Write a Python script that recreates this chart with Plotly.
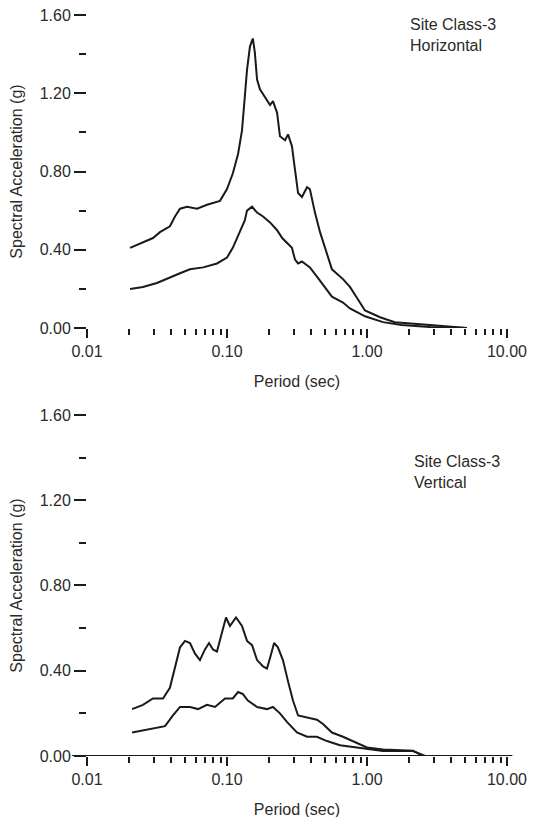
import plotly.graph_objects as go
from plotly.subplots import make_subplots

# Site Class-3, horizontal component (period in sec, Sa in g)
h_period_upper = [0.0203, 0.0251, 0.0296, 0.0332, 0.0391, 0.0425, 0.0462, 0.0518, 0.0611,
                  0.0720, 0.0891, 0.100, 0.110, 0.120, 0.128, 0.134, 0.139, 0.146, 0.153,
                  0.158, 0.164, 0.172, 0.187, 0.203, 0.213, 0.228, 0.239, 0.260, 0.273,
                  0.291, 0.306, 0.322, 0.343, 0.373, 0.391, 0.425, 0.462, 0.518, 0.562,
                  0.674, 0.756, 0.821, 0.968, 1.24, 1.58, 2.82, 5.18]
h_sa_upper = [0.41, 0.44, 0.46, 0.49, 0.52, 0.57, 0.61, 0.62, 0.61,
              0.63, 0.65, 0.71, 0.79, 0.89, 1.01, 1.18, 1.32, 1.44, 1.48,
              1.41, 1.27, 1.22, 1.18, 1.14, 1.16, 1.10, 0.98, 0.96, 0.99,
              0.93, 0.81, 0.69, 0.67, 0.72, 0.71, 0.59, 0.49, 0.38, 0.30,
              0.25, 0.21, 0.17, 0.09, 0.055, 0.03, 0.015, 0.0]

h_period_lower = [0.0203, 0.0251, 0.0316, 0.0391, 0.0462, 0.0544, 0.0676, 0.0848, 0.100,
                  0.110, 0.124, 0.134, 0.139, 0.151, 0.164, 0.181, 0.203, 0.228, 0.248,
                  0.291, 0.306, 0.322, 0.343, 0.391, 0.442, 0.518, 0.562, 0.674, 0.756,
                  0.968, 1.30, 1.77, 2.82, 5.18]
h_sa_lower = [0.20, 0.21, 0.23, 0.26, 0.28, 0.30, 0.31, 0.33, 0.36,
              0.41, 0.49, 0.55, 0.60, 0.62, 0.59, 0.57, 0.54, 0.50, 0.46,
              0.41, 0.35, 0.33, 0.34, 0.31, 0.26, 0.19, 0.16, 0.13, 0.10,
              0.06, 0.03, 0.015, 0.005, 0.0]

# Site Class-3, vertical component
v_period_upper = [0.0210, 0.0251, 0.0296, 0.0349, 0.0391, 0.0425, 0.0462, 0.0501, 0.0544,
                  0.0591, 0.0641, 0.0696, 0.0744, 0.0794, 0.0848, 0.0921, 0.0984, 0.105,
                  0.116, 0.128, 0.139, 0.151, 0.164, 0.181, 0.193, 0.203, 0.217, 0.231,
                  0.251, 0.273, 0.296, 0.322, 0.373, 0.439, 0.485, 0.562, 0.674, 0.756,
                  1.00, 1.30, 2.13, 2.51, 5.44]
v_sa_upper = [0.22, 0.24, 0.27, 0.27, 0.32, 0.42, 0.51, 0.54, 0.53,
              0.48, 0.45, 0.50, 0.53, 0.50, 0.49, 0.58, 0.65, 0.61,
              0.65, 0.61, 0.54, 0.52, 0.45, 0.42, 0.41, 0.46, 0.53, 0.51,
              0.45, 0.35, 0.26, 0.19, 0.18, 0.17, 0.15, 0.11, 0.09, 0.075,
              0.04, 0.03, 0.025, 0.0, 0.0]

v_period_lower = [0.0210, 0.0251, 0.0316, 0.0361, 0.0411, 0.0462, 0.0544, 0.0621, 0.0720,
                  0.0821, 0.0968, 0.110, 0.120, 0.130, 0.141, 0.164, 0.193, 0.213, 0.239,
                  0.268, 0.316, 0.373, 0.439, 0.518, 0.641, 0.968, 1.30, 2.13, 2.60, 5.44]
v_sa_lower = [0.11, 0.12, 0.13, 0.14, 0.19, 0.23, 0.23, 0.22, 0.24,
              0.23, 0.27, 0.27, 0.30, 0.29, 0.26, 0.23, 0.22, 0.23, 0.20,
              0.16, 0.11, 0.09, 0.09, 0.07, 0.05, 0.033, 0.023, 0.023, 0.0, 0.0]

x_tickvals = [0.01, 0.1, 1, 10]
x_ticktext = ["0.01", "0.10", "1.00", "10.00"]
y_tickvals = [0.0, 0.4, 0.8, 1.2, 1.6]
y_ticktext = ["0.00", "0.40", "0.80", "1.20", "1.60"]
minor_x = [m * d for d in (0.01, 0.1, 1) for m in range(2, 10)]

ink = "#1a1a1a"
txt = dict(family="Liberation Sans, Arial", size=16, color="#2a2a2a")

fig = make_subplots(rows=2, cols=1)

panels = [(h_period_upper, h_sa_upper, h_period_lower, h_sa_lower),
          (v_period_upper, v_sa_upper, v_period_lower, v_sa_lower)]
for row, (pu, su, pl, sl) in enumerate(panels, 1):
    fig.add_trace(go.Scatter(x=pu, y=su, mode="lines", line=dict(color=ink, width=2),
                             showlegend=False), row=row, col=1)
    fig.add_trace(go.Scatter(x=pl, y=sl, mode="lines", line=dict(color=ink, width=2),
                             showlegend=False), row=row, col=1)

for row in (1, 2):
    fig.update_xaxes(type="log", range=[-2, 1], tickvals=x_tickvals, ticktext=x_ticktext,
                     ticks="outside", ticklen=9, tickwidth=1.5, tickcolor=ink, tickfont=txt,
                     showgrid=False, zeroline=False, showline=False, automargin=False,
                     ticklabeloverflow="allow",
                     minor=dict(tickvals=minor_x, ticks="outside", ticklen=6, tickcolor=ink),
                     title=dict(text="Period (sec)", font=txt, standoff=16),
                     row=row, col=1)
    fig.update_yaxes(range=[0, 1.6], tickvals=y_tickvals, ticktext=y_ticktext,
                     ticks="outside", ticklen=12, tickwidth=1.5, tickcolor=ink, tickfont=txt,
                     showgrid=False, zeroline=False, showline=False, automargin=False,
                     ticklabeloverflow="allow",
                     minor=dict(dtick=0.2, tick0=0, ticks="outside", ticklen=7, tickcolor=ink),
                     title=dict(text="Spectral Acceleration (g)", font=txt, standoff=14),
                     row=row, col=1)

# page body adds an 8px offset, domains are set with that in mind
fig.update_layout(
    xaxis=dict(domain=[0.1463, 0.924]),
    xaxis2=dict(domain=[0.1463, 0.924]),
    yaxis=dict(domain=[0.6083, 0.9914]),
    yaxis2=dict(domain=[0.0845, 0.5018]),
    width=540, height=817, margin=dict(l=0, r=0, t=0, b=0),
    paper_bgcolor="white", plot_bgcolor="white",
    font=txt,
    shapes=[dict(type="line", xref="paper", yref="y2", x0=0.118, x1=0.934, y0=0, y1=0,
                 line=dict(color=ink, width=2))],
    annotations=[
        dict(text="Site Class-3<br>Horizontal", xref="paper", yref="paper", x=0.74, y=0.993,
             xanchor="left", yanchor="top", align="left", showarrow=False, font=txt),
        dict(text="Site Class-3<br>Vertical", xref="paper", yref="paper", x=0.748, y=0.458,
             xanchor="left", yanchor="top", align="left", showarrow=False, font=txt),
    ],
)

fig.write_html("out.html")
